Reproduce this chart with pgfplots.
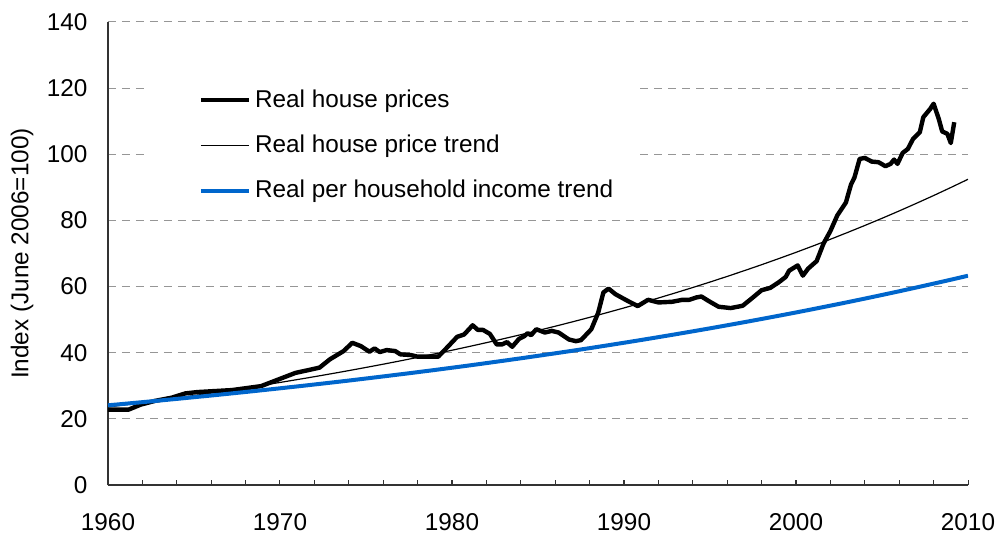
\documentclass[border=0pt]{standalone}
\usepackage{fontspec}
\setmainfont{Liberation Sans}
\usepackage{pgfplots}
\pgfplotsset{compat=1.18}
\definecolor{incomeblue}{RGB}{0,102,204}
\definecolor{gridgray}{RGB}{150,150,150}
\newcommand{\chartfont}{\fontsize{12.2}{14}\selectfont}

\begin{document}
\chartfont
\begin{tikzpicture}
\begin{axis}[
  scale only axis,
  width=430bp, height=231.5bp,
  xmin=1960, xmax=2010, ymin=0, ymax=140,
  axis lines=left,
  axis line style={black!80, line width=0.6bp, -},
  xtick={1960,1970,...,2010},
  minor xtick={1962,1964,...,2008},
  ytick={0,20,...,140},
  tick align=inside,
  major tick length=2.5bp, minor tick length=2.5bp,
  xtick style={black!80, line width=0.5bp},
  ytick style={draw=none},
  ymajorgrids,
  major grid style={gridgray, dash pattern=on 4bp off 3bp, line width=0.5bp},
  tick label style={font=\chartfont},
  /pgf/number format/assume math mode=true,
  /pgf/number format/1000 sep={},
  yticklabel style={xshift=-6bp},
  xticklabel style={yshift=-10bp},
  ylabel={Index (June 2006=100)},
  ylabel style={at={(axis description cs:-0.1,0.5)}, anchor=center, font=\chartfont},
  legend style={at={(axis description cs:0.098,0.872)}, anchor=north west,
                draw=none, fill=none, row sep=8bp, font=\chartfont,
                cells={anchor=west}},
  legend image code/.code={\draw[#1] (0bp,0bp) -- (24bp,0bp);},
]
\coordinate (bl) at (rel axis cs:0,0);
\coordinate (tr) at (rel axis cs:1,1);
\fill[white] (axis description cs:0.043,0.590) rectangle (axis description cs:0.619,0.896);

\addplot[black, line width=2.2bp, line join=round, no markers] coordinates {
(1960.0,22.8)(1961.2,22.8)(1961.9,24.3)(1962.7,25.4)(1963.7,26.4)(1964.5,27.7)
(1965.2,28.1)(1966.2,28.4)(1967.2,28.7)(1968.2,29.4)(1968.9,29.9)(1969.9,31.9)
(1970.9,33.9)(1971.7,34.8)(1972.3,35.5)(1972.9,38.0)(1973.7,40.5)(1974.2,43.0)
(1974.7,42.0)(1975.2,40.3)(1975.5,41.3)(1975.8,40.2)(1976.2,40.8)(1976.7,40.5)
(1977.0,39.5)(1977.6,39.3)(1978.0,38.8)(1979.2,38.8)(1979.7,41.5)(1980.3,44.8)
(1980.7,45.5)(1980.9,46.6)(1981.2,48.3)(1981.5,46.9)(1981.8,46.9)(1982.2,45.7)
(1982.6,42.5)(1982.9,42.5)(1983.2,43.2)(1983.5,41.8)(1983.9,44.2)(1984.2,45.0)
(1984.4,45.9)(1984.6,45.3)(1984.9,47.1)(1985.4,46.1)(1985.8,46.6)(1986.2,46.1)
(1986.8,44.0)(1987.2,43.5)(1987.5,43.8)(1988.1,47.1)(1988.5,52.1)(1988.8,58.2)
(1989.1,59.4)(1989.5,57.7)(1990.2,55.7)(1990.8,54.1)(1991.4,56.0)(1992.0,55.2)
(1992.8,55.4)(1993.4,56.0)(1993.8,56.0)(1994.2,56.7)(1994.5,57.0)(1994.9,55.7)
(1995.5,53.9)(1996.2,53.5)(1996.9,54.2)(1997.4,56.3)(1998.0,58.9)(1998.5,59.6)
(1999.0,61.3)(1999.4,62.9)(1999.6,64.8)(2000.1,66.4)(2000.4,63.3)(2000.7,65.4)
(2001.2,67.7)(2001.6,73.0)(2002.0,76.8)(2002.4,81.5)(2002.9,85.4)(2003.2,90.9)
(2003.4,93.0)(2003.7,98.6)(2004.0,98.9)(2004.4,97.8)(2004.8,97.6)(2005.2,96.4)
(2005.5,97.1)(2005.7,98.4)(2005.9,97.1)(2006.2,100.4)(2006.5,101.6)(2006.8,104.6)
(2007.2,106.7)(2007.4,111.2)(2007.8,113.7)(2008.0,115.3)(2008.3,110.7)(2008.5,106.9)
(2008.8,106.2)(2009.0,103.4)(2009.2,109.7)
};
\addlegendentry{Real house prices}

\addplot[black, line width=0.6bp, no markers] coordinates {
(1960,23.60)(1961,24.25)(1962,24.92)(1963,25.61)(1964,26.32)(1965,27.05)
(1966,27.80)(1967,28.57)(1968,29.36)(1969,30.17)(1970,31.01)(1971,31.87)
(1972,32.75)(1973,33.66)(1974,34.59)(1975,35.55)(1976,36.53)(1977,37.54)
(1978,38.58)(1979,39.65)(1980,40.75)(1981,41.88)(1982,43.04)(1983,44.23)
(1984,45.45)(1985,46.71)(1986,48.00)(1987,49.33)(1988,50.69)(1989,52.10)
(1990,53.54)(1991,55.02)(1992,56.54)(1993,58.11)(1994,59.72)(1995,61.37)
(1996,63.07)(1997,64.82)(1998,66.61)(1999,68.46)(2000,70.35)(2001,72.30)
(2002,74.30)(2003,76.36)(2004,78.47)(2005,80.64)(2006,82.87)(2007,85.17)
(2008,87.52)(2009,89.95)(2010,92.44)
};
\addlegendentry{Real house price trend}

\addplot[incomeblue, line width=2bp, no markers] coordinates {
(1960,24.10)(1961,24.57)(1962,25.05)(1963,25.54)(1964,26.04)(1965,26.55)
(1966,27.06)(1967,27.59)(1968,28.13)(1969,28.68)(1970,29.24)(1971,29.81)
(1972,30.39)(1973,30.98)(1974,31.58)(1975,32.20)(1976,32.83)(1977,33.47)
(1978,34.12)(1979,34.78)(1980,35.46)(1981,36.15)(1982,36.86)(1983,37.58)
(1984,38.31)(1985,39.06)(1986,39.82)(1987,40.59)(1988,41.38)(1989,42.19)
(1990,43.01)(1991,43.85)(1992,44.71)(1993,45.58)(1994,46.47)(1995,47.37)
(1996,48.30)(1997,49.24)(1998,50.20)(1999,51.18)(2000,52.17)(2001,53.19)
(2002,54.23)(2003,55.28)(2004,56.36)(2005,57.46)(2006,58.58)(2007,59.72)
(2008,60.89)(2009,62.07)(2010,63.28)
};
\addlegendentry{Real per household income trend}
\end{axis}
\pgfresetboundingbox
\path[use as bounding box] ([shift={(-54bp,-24bp)}]bl) rectangle ([shift={(13.5bp,11bp)}]tr);
\end{tikzpicture}
\end{document}
